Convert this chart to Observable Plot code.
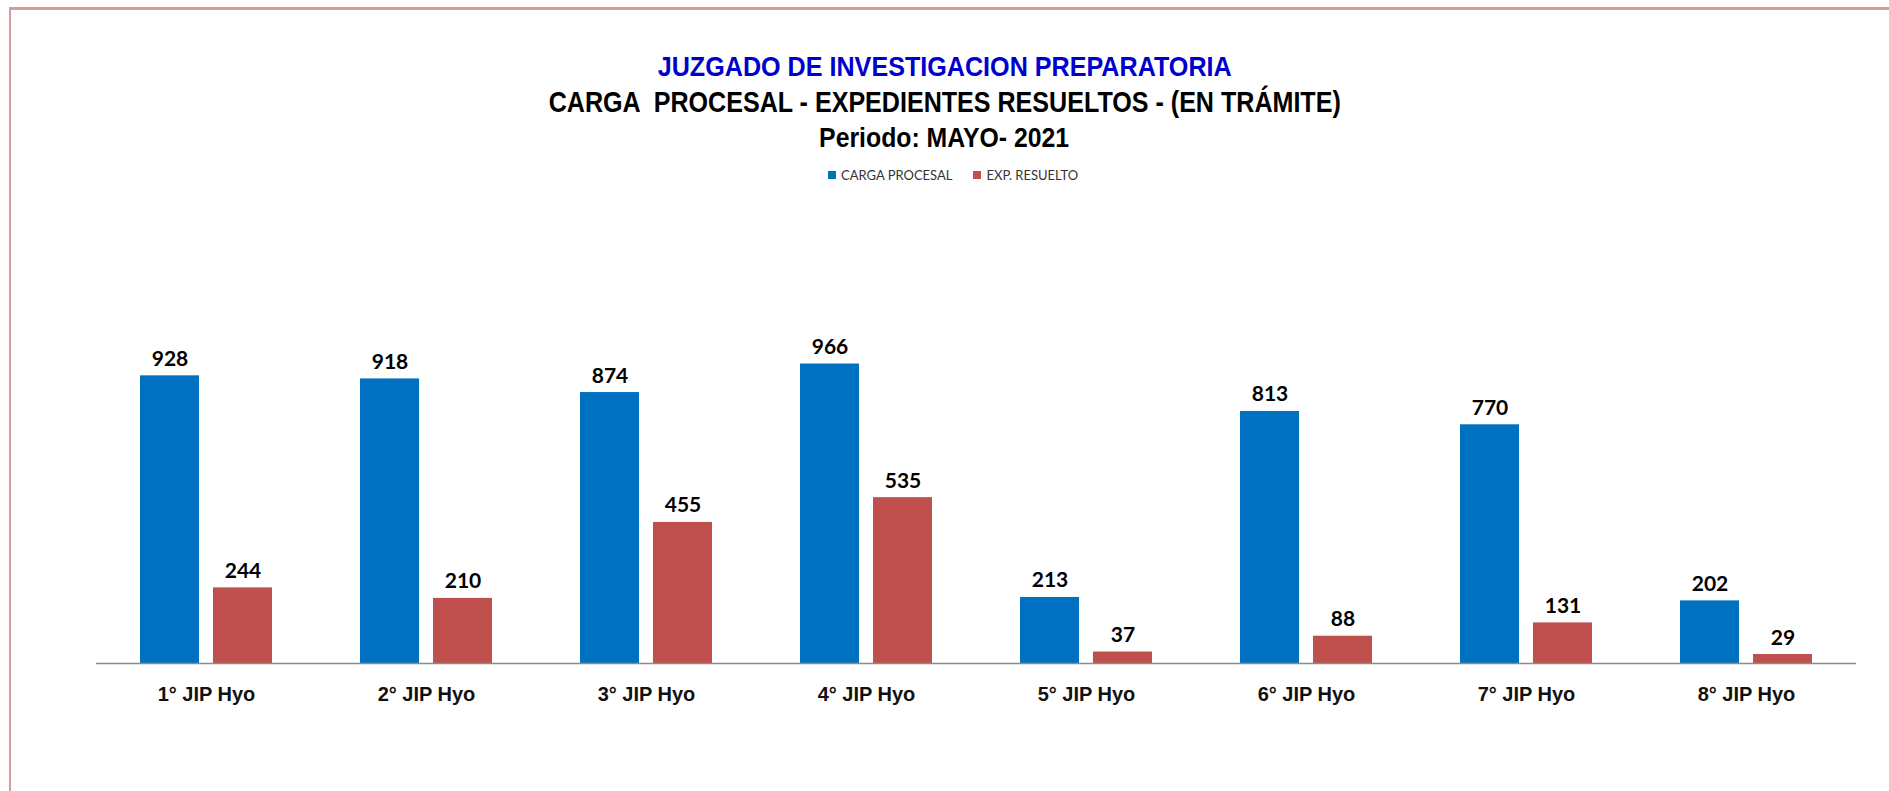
<!DOCTYPE html>
<html>
<head>
<meta charset="utf-8">
<script src="https://cdn.jsdelivr.net/npm/d3@7"></script>
<script src="https://cdn.jsdelivr.net/npm/@observablehq/plot@0.6"></script>
<style>
  html, body { margin: 0; padding: 0; background: #fff; }
  #wrap { position: relative; width: 1889px; height: 791px; overflow: hidden; background: #fff; }
  #frame { position: absolute; left: 9px; top: 7px; right: -20px; bottom: -20px;
           border-top: 3px solid #d29c9c; border-left: 2px solid #d29c9c; }
  .t { position: absolute; left: 0; width: 1889px; text-align: center; white-space: pre;
       font-family: "Liberation Sans", Arial, sans-serif;
       font-weight: bold; line-height: 1; }
  .t span { display: inline-block; transform-origin: 50% 50%; }
  #t1 { top: 53px; font-size: 28px; color: #0000CC; }
  #t2 { top: 87px; font-size: 29.5px; color: #000; }
  #t3 { top: 124px; font-size: 28px; color: #000; }
  #legend { position: absolute; top: 167px; left: 828px; font-family: Lato, "Open Sans", sans-serif;
            font-size: 13px; color: #333; display: flex; align-items: center; }
  .sw { display: inline-block; width: 8px; height: 8px; margin-right: 5px; }
  .item { display: flex; align-items: center; margin-right: 21px; }
  #chart { position: absolute; left: 0; top: 190px; }
</style>
</head>
<body>
<div id="wrap">
  <div id="frame"></div>
  <div class="t" id="t1"><span>JUZGADO DE INVESTIGACION PREPARATORIA</span></div>
  <div class="t" id="t2"><span>CARGA  PROCESAL - EXPEDIENTES RESUELTOS - (EN TRÁMITE)</span></div>
  <div class="t" id="t3"><span>Periodo: MAYO- 2021</span></div>
  <div id="legend"></div>
  <div id="chart"></div>
</div>
<script>
const categories = ["1° JIP Hyo", "2° JIP Hyo", "3° JIP Hyo", "4° JIP Hyo", "5° JIP Hyo", "6° JIP Hyo", "7° JIP Hyo", "8° JIP Hyo"];
const cargaProcesal = [928, 918, 874, 966, 213, 813, 770, 202];
const expResuelto = [244, 210, 455, 535, 37, 88, 131, 29];
const seriesNames = ["CARGA PROCESAL", "EXP. RESUELTO"];
const seriesColors = ["#0070C0", "#C0504D"];

const data = categories.flatMap((c, i) => [
  {cat: c, serie: seriesNames[0], value: cargaProcesal[i]},
  {cat: c, serie: seriesNames[1], value: expResuelto[i]}
]);

// condense title lines (Arial Narrow look) to their measured widths
[["t1", 574], ["t2", 792], ["t3", 250]].forEach(([id, w]) => {
  const s = document.querySelector("#" + id + " span");
  const cw = s.getBoundingClientRect().width;
  if (cw > 0) s.style.transform = `scaleX(${w / cw})`;
});

// legend
const legend = document.getElementById("legend");
seriesNames.forEach((s, i) => {
  const it = document.createElement("span");
  it.className = "item";
  const sw = document.createElement("span");
  sw.className = "sw";
  sw.style.background = seriesColors[i];
  it.appendChild(sw);
  it.appendChild(document.createTextNode(s));
  legend.appendChild(it);
});

const chart = Plot.plot({
  width: 1889,
  height: 601,
  marginLeft: 93,
  marginRight: 31,
  marginTop: 163,
  marginBottom: 128,
  style: {fontFamily: "'Liberation Sans', Arial, sans-serif", background: "transparent", overflow: "visible"},
  fx: {domain: categories, padding: 0, label: null},
  x: {domain: seriesNames, paddingInner: 0.195, paddingOuter: 0.602, axis: null},
  y: {domain: [0, 1000], axis: null},
  color: {domain: seriesNames, range: seriesColors},
  marks: [
    Plot.barY(data, {fx: "cat", x: "serie", y: "value", fill: "serie"}),
    Plot.ruleY([0], {stroke: "#8c8c8c", strokeWidth: 1.3}),
    Plot.text(data, {fx: "cat", x: "serie", y: "value", text: d => String(d.value),
      lineAnchor: "bottom", dy: -10, fontSize: 21, fontWeight: "bold", fontFamily: "Lato", fill: "#000"}),
    Plot.axisFx({anchor: "bottom", tickSize: 0, tickPadding: 23, fontSize: 20, fontWeight: "bold",
      fontFamily: "'Liberation Sans', Arial, sans-serif", fill: "#111", label: null})
  ]
});
document.getElementById("chart").appendChild(chart);
</script>
</body>
</html>
